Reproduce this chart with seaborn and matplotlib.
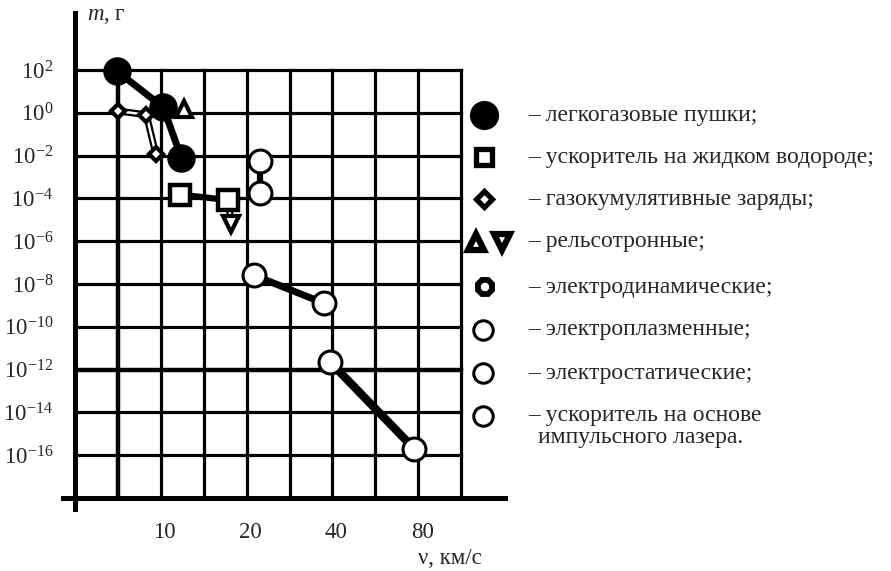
import numpy as np
import pandas as pd
import matplotlib
matplotlib.use("Agg")
import matplotlib.pyplot as plt
import matplotlib.transforms as mtransforms
import seaborn as sns

# --- data: projectile mass (g) versus launch speed (km/s) ---
gas_gun_v = [7.0, 10.2, 11.8]
gas_gun_m = [90.0, 1.8, 8e-3]

lh2_v = [11.7, 17.2]
lh2_m = [1.5e-4, 8.3e-5]

cumul_v = [7.1, 8.9, 9.6]
cumul_m = [1.2, 0.8, 1.2e-2]

rail_up_v = [12.1]
rail_up_m = [1.5]
rail_down_v = [17.7]
rail_down_m = [6.6e-6]

plasma_v = [22.3, 22.3]
plasma_m = [5.6e-3, 1.8e-4]

electrostatic_v = [21.3, 37.4]
electrostatic_m = [2.5e-8, 1.25e-9]

laser_v = [39.2, 77.5]
laser_m = [2.3e-12, 2.0e-16]

x_ticks = [10, 20, 40, 80]
y_exponents = [2, 0, -2, -4, -6, -8, -10, -12, -14, -16]

legend_labels = [
    "– легкогазовые пушки;",
    "– ускоритель на жидком водороде;",
    "– газокумулятивные заряды;",
    "– рельсотронные;",
    "– электродинамические;",
    "– электроплазменные;",
    "– электростатические;",
    "– ускоритель на основе",
]
legend_tail = "импульсного лазера."

# --- style ---
sns.set_style("white")
plt.rcParams["font.family"] = ["Liberation Serif", "DejaVu Serif"]
plt.rcParams["mathtext.fontset"] = "custom"
plt.rcParams["mathtext.rm"] = "Liberation Serif"
plt.rcParams["mathtext.it"] = "Liberation Serif:italic"
plt.rcParams["font.size"] = 16

W, H = 891, 571
fig = plt.figure(figsize=(W / 100, H / 100), dpi=100)
fig.patch.set_facecolor("white")

X_OCT = 85.8  # pixels per doubling of speed
Y_DEC = 21.43  # pixels per decade of mass
ax = fig.add_axes([75 / W, 1 - 498 / H, (505 - 75) / W, (498 - 13) / H])
ax.set_xscale("log", base=2)
ax.set_yscale("log")
x_max = 5 * 2 ** ((505 - 75) / X_OCT)
y_max = 10 ** (2 + 57 / Y_DEC)
ax.set_xlim(5, x_max)
ax.set_ylim(1e-18, y_max)
ax.set_facecolor("white")

# grid: half-octave columns, two-decade rows
grid_right = 5 * 2 ** 4.5
for k in range(1, 10):
    xv = 5 * 2 ** (k / 2)
    ax.vlines(xv, 1e-18, 1e2, colors="black", lw=3.2 if k == 1 else 2.3,
              zorder=1, capstyle="projecting")
for e in y_exponents:
    ax.hlines(10.0 ** e, 5, grid_right, colors="black",
              lw=3.2 if e == -12 else 2.3, zorder=1, capstyle="projecting")

# spines
for side in ("top", "right"):
    ax.spines[side].set_visible(False)
for side in ("left", "bottom"):
    ax.spines[side].set_linewidth(3.6)
    ax.spines[side].set_color("black")
ax.spines["left"].set_bounds(10 ** (-18 - 11 / Y_DEC), y_max)
ax.spines["bottom"].set_bounds(5 * 2 ** (-12 / X_OCT), x_max)

# ticks
ax.set_yticks([10.0 ** e for e in y_exponents])
ax.set_yticklabels([r"$\mathregular{10^{%d}}$" % e for e in y_exponents])
ax.yaxis.set_minor_locator(matplotlib.ticker.NullLocator())
ax.set_xticks(x_ticks)
ax.set_xticklabels([str(v) for v in x_ticks])
ax.xaxis.set_minor_locator(matplotlib.ticker.NullLocator())
ax.tick_params(axis="y", which="major", direction="out", length=8.6,
               width=2.3, pad=7, labelsize=16.5, color="black")
ax.tick_params(axis="x", which="major", direction="out", length=8,
               width=2.4, pad=9, labelsize=16.5, color="black")
shift = mtransforms.ScaledTranslation(4 / 100, 0, fig.dpi_scale_trans)
for lbl in ax.get_xticklabels():
    lbl.set_transform(lbl.get_transform() + shift)


def series(v, m, lw, outlined=False, z=3):
    df = pd.DataFrame({"v": v, "m": m})
    sns.lineplot(data=df, x="v", y="m", ax=ax, color="black", lw=lw,
                 sort=False, estimator=None, zorder=z,
                 solid_capstyle="round", solid_joinstyle="round")
    if outlined:
        sns.lineplot(data=df, x="v", y="m", ax=ax, color="white",
                     lw=lw * 0.35, sort=False, estimator=None, zorder=z + 0.1,
                     solid_capstyle="round", solid_joinstyle="round")


def points(v, m, marker, ms, mfc, mew, z=5):
    df = pd.DataFrame({"v": v, "m": m})
    sns.lineplot(data=df, x="v", y="m", ax=ax, lw=0, marker=marker, ms=ms,
                 mfc=mfc, mec="black", mew=mew, sort=False, estimator=None,
                 zorder=z)


# connecting lines
series(gas_gun_v, gas_gun_m, 5.0)
series(cumul_v, cumul_m, 5.0, outlined=True)
series(lh2_v, lh2_m, 4.5)
series([lh2_v[1], rail_down_v[0]], [lh2_m[1], rail_down_m[0]], 5.0,
       outlined=True)
series(plasma_v, plasma_m, 4.5)
series(electrostatic_v, electrostatic_m, 5.0)
series(laser_v, laser_m, 6.0)

# markers
points(cumul_v, cumul_m, "D", 7, "white", 3.0)
points(rail_up_v, rail_up_m, "^", 11, "white", 3.0)
points(rail_down_v, rail_down_m, "v", 11, "white", 3.0)
points(lh2_v, lh2_m, "s", 14, "white", 3.2)
points(gas_gun_v, gas_gun_m, "o", 19.5, "black", 1.0, z=6)
points(plasma_v, plasma_m, "o", 16.5, "white", 2.2)
points(electrostatic_v, electrostatic_m, "o", 16.5, "white", 2.2)
points(laser_v, laser_m, "o", 16.5, "white", 2.2)

ax.set_xlabel("")
ax.set_ylabel("")

# axis captions
fig.text(87 / W, 1 - 16 / H, r"$m$, г", ha="left", va="center", fontsize=16.5)
fig.text(418 / W, 1 - 558 / H, "ν, км/с", ha="left", va="center",
         fontsize=16.5)

# legend drawn on an overlay in pixel coordinates
lax = fig.add_axes([0, 0, 1, 1], zorder=10)
lax.set_xlim(0, W)
lax.set_ylim(H, 0)
lax.axis("off")
lax.patch.set_alpha(0)
rows = [115, 157, 199, 242, 287, 330, 373, 416]
lax.plot(484, rows[0], "o", ms=20, mfc="black", mec="black")
lax.plot(484, rows[1], "s", ms=11.5, mfc="white", mec="black", mew=3.8)
lax.plot(484, rows[2], "D", ms=8.5, mfc="white", mec="black", mew=3.8)
lax.plot(476, rows[3], "^", ms=11, mfc="white", mec="black", mew=4.5)
lax.plot(502, rows[3], "v", ms=11, mfc="white", mec="black", mew=4.5)
lax.plot(485, rows[4], "8", ms=10.5, mfc="white", mec="black", mew=4.2)
for r in rows[5:]:
    lax.plot(483, r, "o", ms=14, mfc="white", mec="black", mew=2.2)
for r, txt in zip(rows, legend_labels):
    lax.text(528, r, txt, ha="left", va="center", fontsize=17)
lax.text(538, rows[-1] + 22, legend_tail, ha="left", va="center", fontsize=17)

fig.savefig("out.png", dpi=100, facecolor="white")
